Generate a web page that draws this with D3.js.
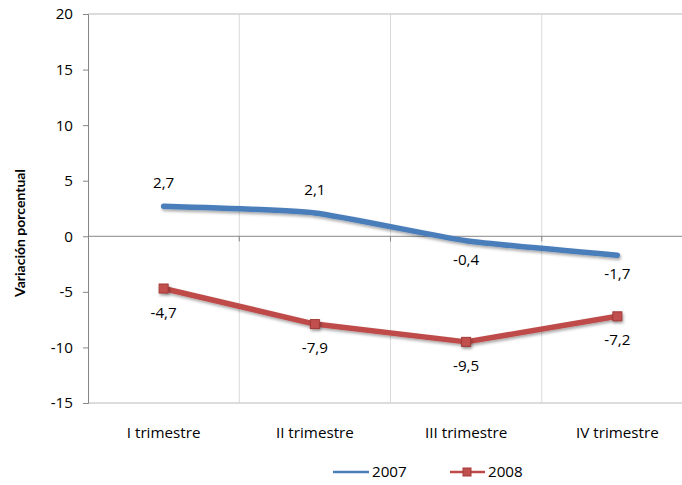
<!DOCTYPE html>
<html><head><meta charset="utf-8">
<script src="https://cdn.jsdelivr.net/npm/d3@7"></script>
<style>body{margin:0;background:#fff}svg{display:block}text{font-family:"Open Sans",sans-serif;fill:#000}</style>
</head><body><svg id="c" width="682" height="485"></svg>
<script>
const categories = ["I trimestre","II trimestre","III trimestre","IV trimestre"];
const s2007 = [2.7, 2.1, -0.4, -1.7];
const s2008 = [-4.7, -7.9, -9.5, -7.2];
const yTicks = [20, 15, 10, 5, 0, -5, -10, -15];
const seriesNames = ["2007","2008"];

const svg = d3.select("#c");
const L = 88, R = 693, T = 14, B = 403;
const x = d3.scaleBand().domain(categories).range([L, R]);
const y = d3.scaleLinear().domain([-15, 20]).range([B, T]);
const cx = c => x(c) + x.bandwidth()/2;
const fmt = v => String(v).replace(".", ",");
const FS = 15.2;

// vertical gridlines
svg.append("g").selectAll("line").data(categories.slice(1)).join("line")
  .attr("x1", d => x(d)).attr("x2", d => x(d)).attr("y1", T).attr("y2", B)
  .attr("stroke", "#d9d9d9").attr("stroke-width", 1);
// top & bottom lines
[20, -15].forEach(v => svg.append("line").attr("x1", L).attr("x2", R).attr("y1", y(v)).attr("y2", y(v))
  .attr("stroke", "#d0d0d0").attr("stroke-width", 1.5));
// zero axis
svg.append("line").attr("x1", L).attr("x2", R).attr("y1", y(0)).attr("y2", y(0)).attr("stroke", "#868686").attr("stroke-width", 1);
svg.append("g").selectAll("line").data(categories.slice(1)).join("line")
  .attr("x1", d => x(d)).attr("x2", d => x(d)).attr("y1", y(0)).attr("y2", y(0)+5).attr("stroke", "#868686");

// y axis
const ya = d3.axisLeft(y).tickValues(yTicks).tickSize(5).tickPadding(10).tickFormat(d => d);
const yg = svg.append("g").attr("transform", `translate(${L},0)`).call(ya);
yg.select(".domain").attr("stroke", "#868686");
yg.selectAll(".tick line").attr("stroke", "#868686");
yg.selectAll(".tick text").attr("font-size", FS).attr("font-family", "'Open Sans',sans-serif");

// y title
svg.append("text").attr("transform", `translate(25,233) rotate(-90)`)
  .attr("text-anchor", "middle").attr("font-size", 14).attr("font-weight", "bold")
  .style("font-family", "Lato,sans-serif").text("Variación porcentual");

// category labels
svg.append("g").selectAll("text").data(categories).join("text")
  .attr("x", cx).attr("y", 438).attr("text-anchor", "middle").attr("font-size", FS).text(d => d);

const defs = svg.append("defs");
const f = defs.append("filter").attr("id", "sh").attr("x", "-50%").attr("y", "-50%").attr("width", "200%").attr("height", "200%");
f.append("feDropShadow").attr("dx", 1).attr("dy", 2).attr("stdDeviation", 1.5).attr("flood-color", "#000").attr("flood-opacity", 0.35);

// lines
const line2007 = d3.line().x((d,i) => cx(categories[i])).y(d => y(d)).curve(d3.curveCardinal.tension(0.5));
const line2008 = d3.line().x((d,i) => cx(categories[i])).y(d => y(d));
svg.append("path").attr("d", line2007(s2007)).attr("fill", "none").attr("stroke", "#4a7ebb").attr("stroke-width", 5.5).attr("stroke-linecap", "round").attr("filter", "url(#sh)");
svg.append("path").attr("d", line2008(s2008)).attr("fill", "none").attr("stroke", "#be4b48").attr("stroke-width", 5.5).attr("stroke-linecap", "round").attr("stroke-linejoin", "round").attr("filter", "url(#sh)");
svg.append("g").selectAll("rect").data(s2008).join("rect")
  .attr("x", (d,i) => cx(categories[i]) - 4.5).attr("y", d => y(d) - 4.5).attr("width", 9).attr("height", 9)
  .attr("fill", "#c0504d").attr("stroke", "#a33a37").attr("stroke-width", 1).attr("filter", "url(#sh)");

// data labels
svg.append("g").selectAll("text").data(s2007).join("text")
  .attr("x", (d,i) => cx(categories[i])).attr("y", (d,i) => y(d) + (i < 2 ? -18 : 24))
  .attr("text-anchor", "middle").attr("font-size", FS).text(fmt);
svg.append("g").selectAll("text").data(s2008).join("text")
  .attr("x", (d,i) => cx(categories[i])).attr("y", d => y(d) + 29)
  .attr("text-anchor", "middle").attr("font-size", FS).text(fmt);

// legend
const lg = svg.append("g");
lg.append("line").attr("x1", 333).attr("x2", 369).attr("y1", 472).attr("y2", 472).attr("stroke", "#4a7ebb").attr("stroke-width", 2.5);
lg.append("text").attr("x", 372).attr("y", 477).attr("font-size", FS).text(seriesNames[0]);
lg.append("line").attr("x1", 450).attr("x2", 485).attr("y1", 472).attr("y2", 472).attr("stroke", "#be4b48").attr("stroke-width", 2.5);
lg.append("rect").attr("x", 463).attr("y", 468).attr("width", 8).attr("height", 8).attr("fill", "#c0504d").attr("stroke", "#a33a37");
lg.append("text").attr("x", 488).attr("y", 477).attr("font-size", FS).text(seriesNames[1]);
</script></body></html>
